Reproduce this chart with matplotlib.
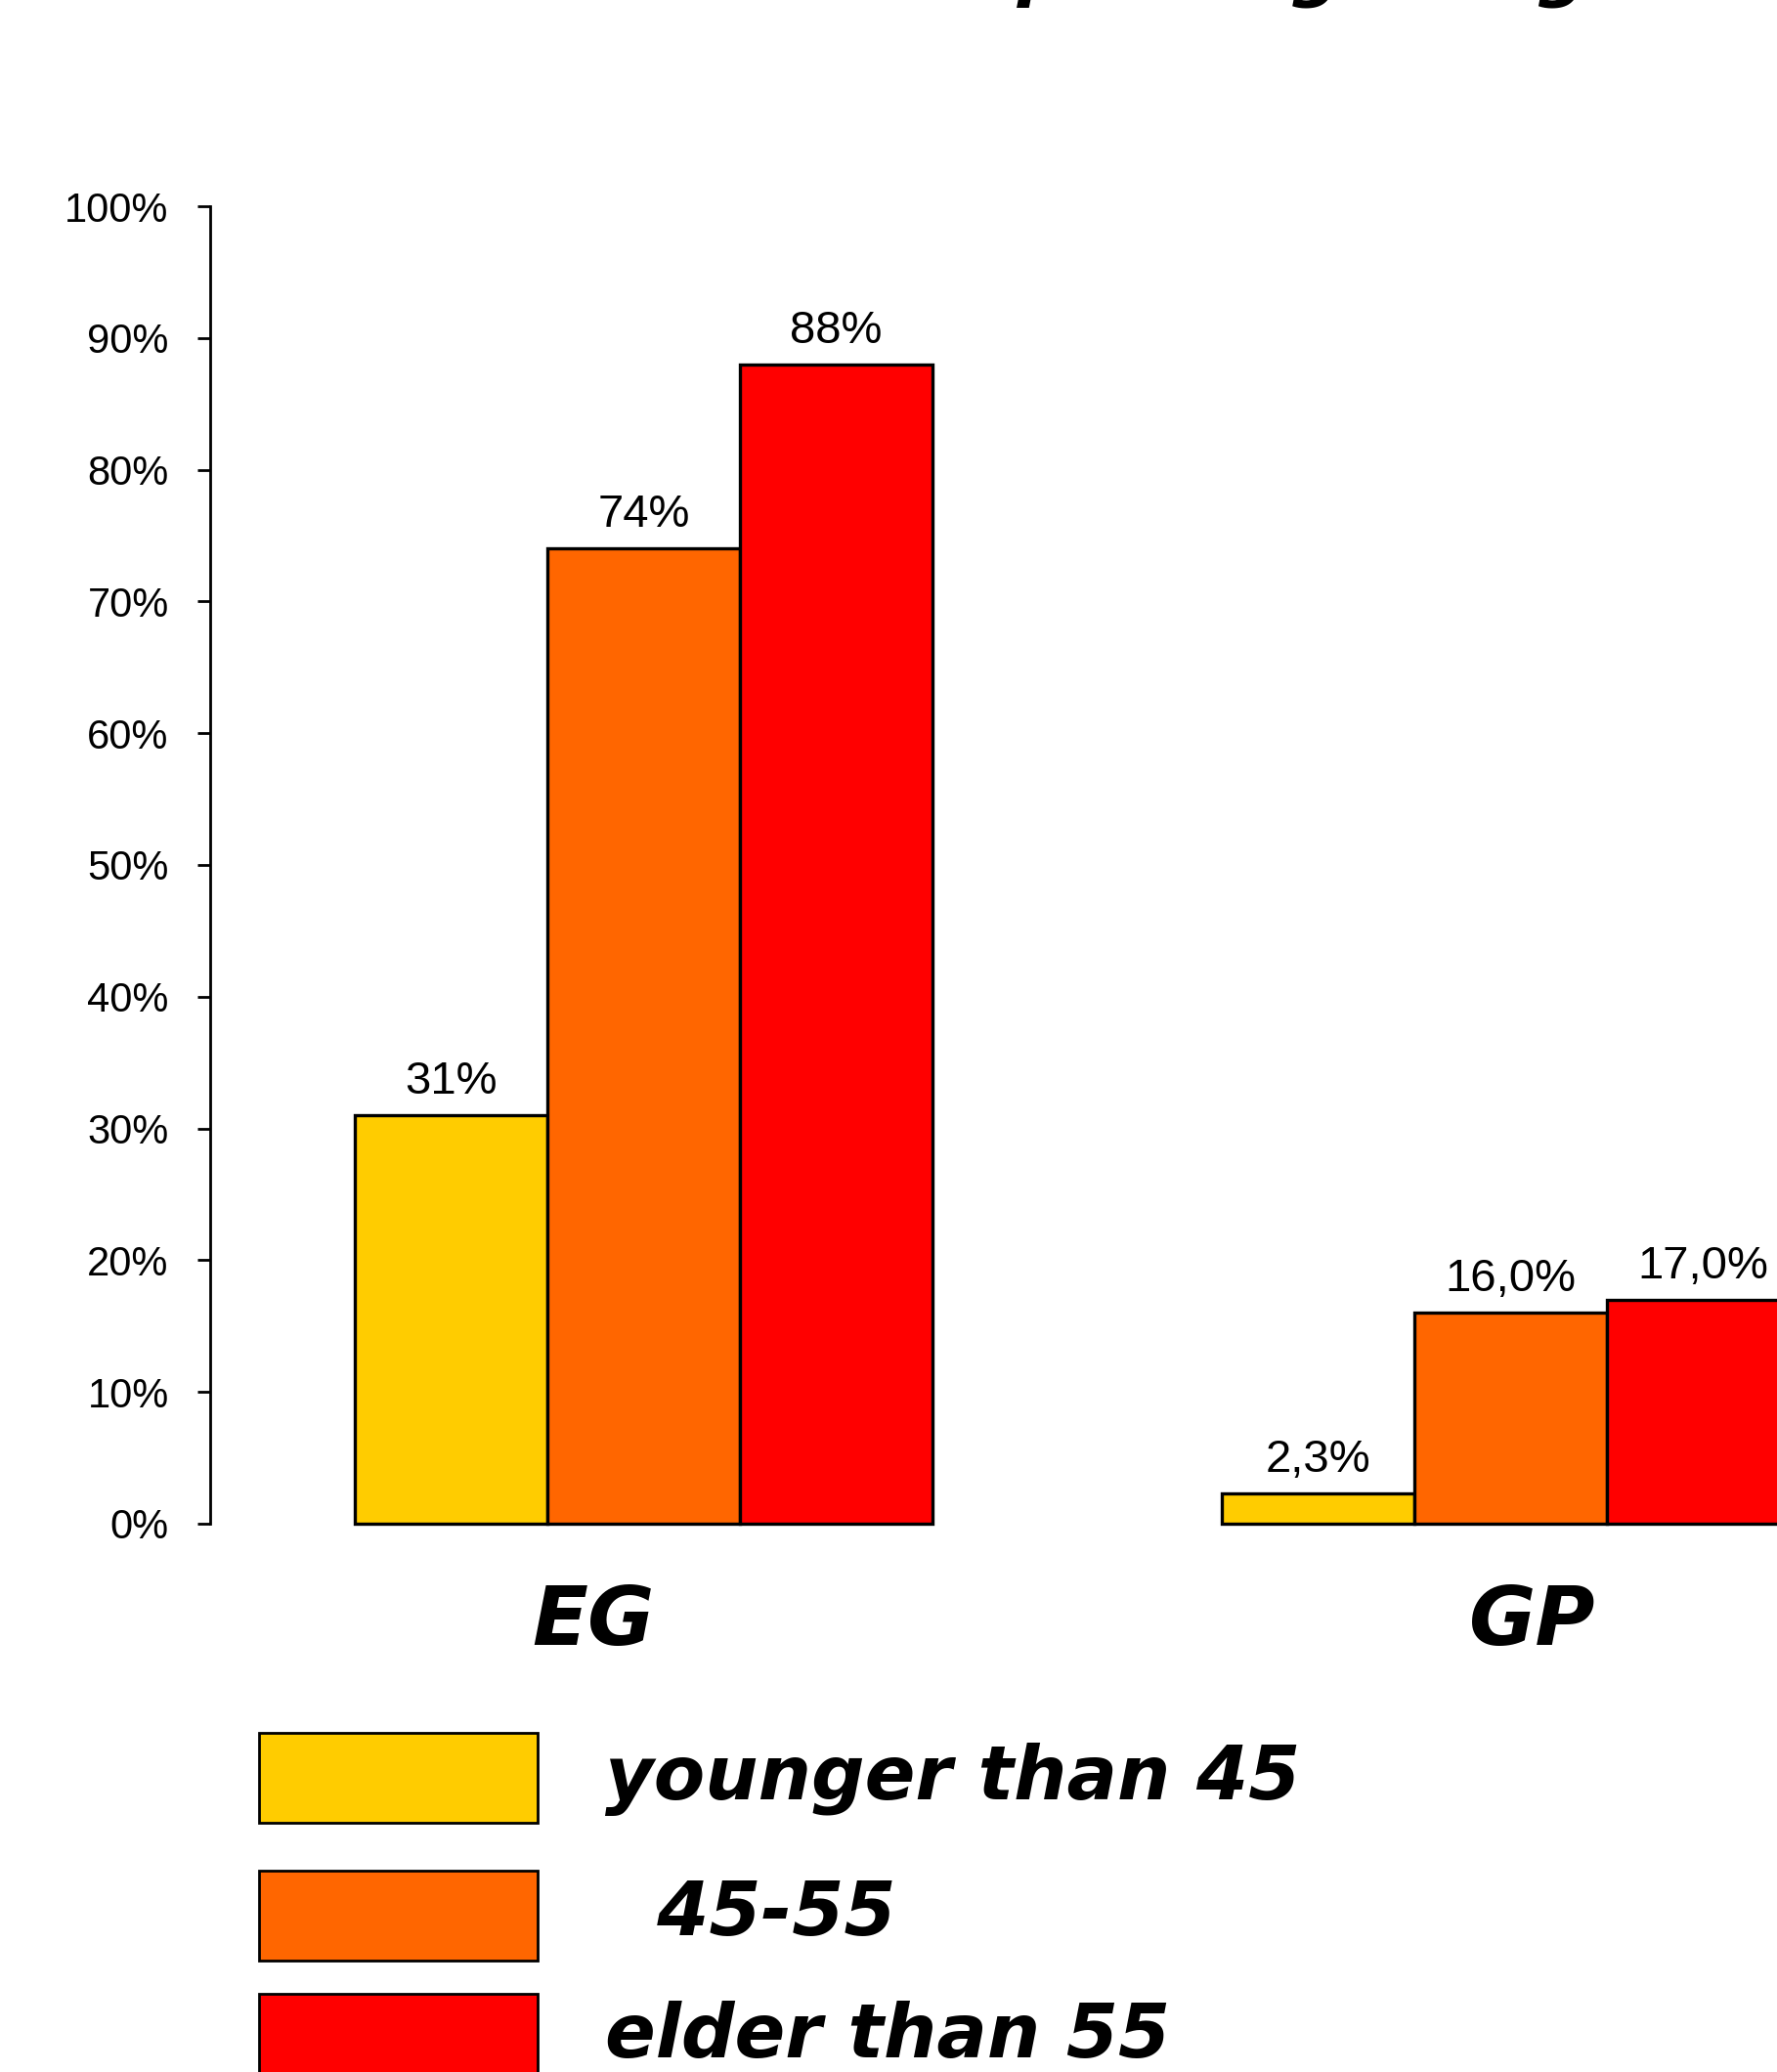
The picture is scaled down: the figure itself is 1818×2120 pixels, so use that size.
import matplotlib
matplotlib.use("Agg")
import matplotlib.pyplot as plt
from matplotlib.patches import Rectangle
from matplotlib.ticker import PercentFormatter

# share of patients per age class, in percent
groups = ["EG", "GP"]
age_classes = ["younger than 45", "  45-55", "elder than 55"]
values = {
    "EG": [31, 74, 88],
    "GP": [2.3, 16.0, 17.0],
}
label_decimals = {"EG": 0, "GP": 1}
colors = ["#FFCC00", "#FF6600", "#FF0000"]

W, H = 1818, 2120


def fmt_pct(v, decimals):
    return f"{v:.{decimals}f}%".replace(".", ",")


def main():
    fig = plt.figure(figsize=(W / 100, H / 100), dpi=100)
    ax = fig.add_axes([215 / W, (H - 1559) / H, 1774 / W, 1348 / H])

    bar_w = 0.222
    for gi, g in enumerate(groups):
        for ci, v in enumerate(values[g]):
            x = gi + (ci - 1) * bar_w
            ax.bar(x, v, width=bar_w, color=colors[ci], edgecolor="black",
                   linewidth=2.4, clip_on=False)
            ax.annotate(fmt_pct(v, label_decimals[g]), xy=(x, v), xytext=(0, 16),
                        textcoords="offset points", ha="center", va="baseline",
                        fontsize=34, family="Liberation Sans",
                        annotation_clip=False)

    # category names under each group
    name_shift = [-0.058, 0.025]
    for gi, g in enumerate(groups):
        ax.annotate(g, xy=(gi + name_shift[gi], 0), xytext=(0, -89),
                    textcoords="offset points", ha="center", va="baseline",
                    fontsize=60, fontweight="bold", style="italic",
                    family="DejaVu Sans", annotation_clip=False)

    ax.set_xlim(-0.5, 1.5)
    ax.set_ylim(0, 100)
    ax.set_yticks(range(0, 101, 10))
    ax.yaxis.set_major_formatter(PercentFormatter(decimals=0))
    ax.set_xticks([])
    for side in ["top", "right", "bottom"]:
        ax.spines[side].set_visible(False)
    ax.spines["left"].set_linewidth(2)
    ax.tick_params(axis="y", direction="out", length=9.5, width=2, pad=21,
                   labelsize=30)
    for lab in ax.get_yticklabels():
        lab.set_family("Liberation Sans")

    # hand-drawn legend below the chart
    box_tops = [1773, 1914, 2040]
    text_bases = [1841, 1980, 2105]
    for ci, name in enumerate(age_classes):
        fig.patches.append(Rectangle((265 / W, (H - box_tops[ci] - 92) / H), 285 / W, 92 / H,
                                     transform=fig.transFigure, facecolor=colors[ci],
                                     edgecolor="black", linewidth=2))
        fig.text(619 / W, (H - text_bases[ci]) / H, name, ha="left", va="baseline",
                 fontsize=55, fontweight="bold", style="italic", family="DejaVu Sans")

    # heading sits above the top edge
    fig.text(940 / W, (H + 7) / H, "depending on age", ha="left", va="baseline",
             fontsize=52, fontweight="bold", style="italic", family="DejaVu Sans")

    fig.savefig("out.png", dpi=100)


if __name__ == "__main__":
    main()
